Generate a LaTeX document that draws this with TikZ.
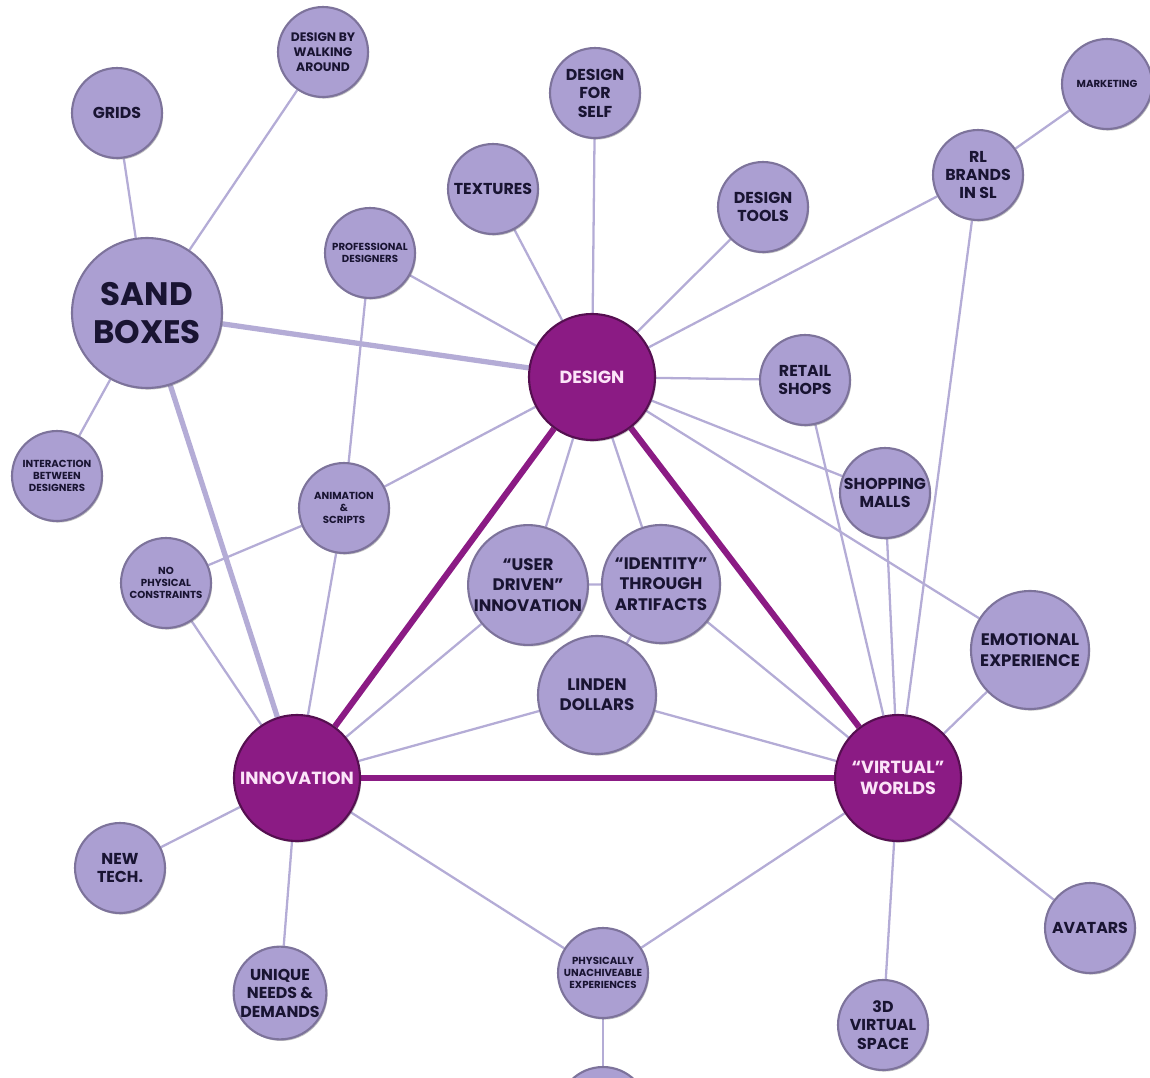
\documentclass[tikz,border=0pt]{standalone}
\usepackage{fontspec}
\setmainfont{Poppins}
\usetikzlibrary{shadows}
\definecolor{lav}{RGB}{171,159,210}
\definecolor{lavrim}{RGB}{125,115,155}
\definecolor{lavline}{RGB}{180,172,214}
\definecolor{plum}{RGB}{139,27,132}
\definecolor{plumrim}{RGB}{85,15,80}
\definecolor{ink}{RGB}{25,20,50}
\definecolor{hubtext}{RGB}{252,228,248}
\pgfdeclarelayer{bg}
\pgfsetlayers{bg,main}
\tikzset{
    topic/.style={circle, fill=lav, draw=lavrim, line width=1.2pt, text=ink, align=center,
        inner sep=0pt, minimum size=1.8cm,
        font=\bfseries\fontsize{9}{10.5}\selectfont,
        drop shadow={shadow xshift=0.7pt, shadow yshift=-0.9pt, opacity=0.35, fill=black!70}},
    small/.style={topic, font=\bfseries\fontsize{5.8}{7}\selectfont},
    large/.style={topic, minimum size=2.36cm, font=\bfseries\fontsize{9.5}{11.5}\selectfont},
    hub/.style={topic, fill=plum, draw=plumrim, text=hubtext, minimum size=2.52cm,
        font=\bfseries\fontsize{10}{12}\selectfont},
    sand/.style={topic, minimum size=3cm, font=\bfseries\fontsize{18.5}{22}\selectfont},
    link/.style={draw=lavline, line width=1.3pt},
    strong/.style={draw=lavline, line width=3pt},
    core/.style={draw=plum, line width=3.5pt}
}
\begin{document}
\begin{tikzpicture}[x=0.02cm, y=-0.02cm]
    \useasboundingbox (0,0) rectangle (1150,1078);
    \node [topic] (grids) at (117,113) {GRIDS};
    \node [topic, font=\bfseries\fontsize{7}{8.5}\selectfont] (walking) at (323,52) {DESIGN BY\\WALKING\\AROUND};
    \node [sand] (sand) at (147,313) {SAND\\BOXES};
    \node [small] (prof) at (370,253) {PROFESSIONAL\\DESIGNERS};
    \node [small] (interact) at (57,476) {INTERACTION\\BETWEEN\\DESIGNERS};
    \node [topic] (textures) at (493,189) {TEXTURES};
    \node [topic] (self) at (595,93) {DESIGN\\FOR\\SELF};
    \node [topic] (tools) at (763,207) {DESIGN\\TOOLS};
    \node [topic] (brands) at (978,175) {RL\\BRANDS\\IN SL};
    \node [small] (marketing) at (1107,84) {MARKETING};
    \node [hub] (design) at (592,377) {DESIGN};
    \node [topic] (retail) at (805,380) {RETAIL\\SHOPS};
    \node [topic] (malls) at (885,493) {SHOPPING\\MALLS};
    \node [small] (anim) at (344,508) {ANIMATION\\\&\\SCRIPTS};
    \node [small] (nophys) at (166,583) {NO\\PHYSICAL\\CONSTRAINTS};
    \node [large] (userdriven) at (528,585) {``USER\\DRIVEN''\\INNOVATION};
    \node [large] (identity) at (661,584) {``IDENTITY''\\THROUGH\\ARTIFACTS};
    \node [large] (linden) at (597,695) {LINDEN\\DOLLARS};
    \node [large] (emotional) at (1030,650) {EMOTIONAL\\EXPERIENCE};
    \node [hub] (innovation) at (297,778) {INNOVATION};
    \node [hub] (virtual) at (898,778) {``VIRTUAL''\\WORLDS};
    \node [topic] (newtech) at (120,868) {NEW\\TECH.};
    \node [topic] (unique) at (280,993) {UNIQUE\\NEEDS \&\\DEMANDS};
    \node [small] (physically) at (603,973) {PHYSICALLY\\UNACHIVEABLE\\EXPERIENCES};
    \node [topic] (space) at (883,1025) {3D\\VIRTUAL\\SPACE};
    \node [topic] (avatars) at (1090,928) {AVATARS};
    \node [topic] (cutoff) at (603,1112) {};
    \begin{pgfonlayer}{bg}
        \draw [strong] (sand) -- (design);
        \draw [strong] (sand) -- (innovation);
        \draw [core] (design) -- (innovation);
        \draw [core] (design) -- (virtual);
        \draw [core] (innovation) -- (virtual);
        \draw [link] (sand) -- (grids);
        \draw [link] (sand) -- (walking);
        \draw [link] (sand) -- (interact);
        \draw [link] (design) -- (prof);
        \draw [link] (prof) -- (anim);
        \draw [link] (anim) -- (design);
        \draw [link] (anim) -- (innovation);
        \draw [link] (anim) -- (nophys);
        \draw [link] (nophys) -- (innovation);
        \draw [link] (design) -- (textures);
        \draw [link] (design) -- (self);
        \draw [link] (design) -- (tools);
        \draw [link] (design) -- (brands);
        \draw [link] (design) -- (retail);
        \draw [link] (design) -- (malls);
        \draw [link] (design) -- (emotional);
        \draw [link] (design) -- (userdriven);
        \draw [link] (design) -- (identity);
        \draw [link] (brands) -- (marketing);
        \draw [link] (brands) -- (virtual);
        \draw [link] (retail) -- (virtual);
        \draw [link] (malls) -- (virtual);
        \draw [link] (emotional) -- (virtual);
        \draw [link] (userdriven) -- (identity);
        \draw [link] (identity) -- (linden);
        \draw [link] (userdriven) -- (innovation);
        \draw [link] (linden) -- (innovation);
        \draw [link] (linden) -- (virtual);
        \draw [link] (identity) -- (virtual);
        \draw [link] (innovation) -- (newtech);
        \draw [link] (innovation) -- (unique);
        \draw [link] (innovation) -- (physically);
        \draw [link] (virtual) -- (physically);
        \draw [link] (virtual) -- (space);
        \draw [link] (virtual) -- (avatars);
        \draw [link] (physically) -- (cutoff);
    \end{pgfonlayer}
\end{tikzpicture}
\end{document}
